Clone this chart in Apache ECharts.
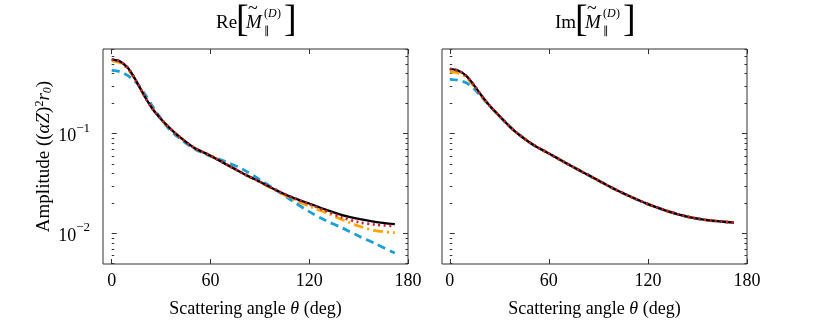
<!DOCTYPE html>
<html>
<head>
<meta charset="utf-8">
<script src="https://cdn.jsdelivr.net/npm/echarts@6/dist/echarts.min.js"></script>
<style>
  html, body { margin: 0; padding: 0; background: #fff; }
  #chart { width: 830px; height: 323px; }
</style>
</head>
<body>
<div id="chart"></div>
<script>
// scattering angle (deg)
const angles = [0, 5, 10, 15, 20, 25, 30, 35, 40, 50, 60, 70, 80, 90, 100, 110, 120, 130, 140, 150, 160, 172];

// Re part
const reBlack  = [0.557, 0.531, 0.452, 0.335, 0.237, 0.176, 0.140, 0.115, 0.0966, 0.0724, 0.0603, 0.0490, 0.0398, 0.0331, 0.0272, 0.0229, 0.0200, 0.0174, 0.0153, 0.0140, 0.0131, 0.0124];
const reBlue   = [0.431, 0.419, 0.380, 0.324, 0.251, 0.186, 0.141, 0.111, 0.0933, 0.0708, 0.0596, 0.0519, 0.0437, 0.0347, 0.0272, 0.0211, 0.0166, 0.0135, 0.0114, 0.00944, 0.00794, 0.00638];
const reOrange = [0.537, 0.513, 0.442, 0.333, 0.237, 0.176, 0.140, 0.115, 0.0966, 0.0724, 0.0603, 0.0490, 0.0398, 0.0327, 0.0268, 0.0221, 0.0188, 0.0162, 0.0138, 0.0119, 0.0107, 0.0102];
const reRed    = [0.557, 0.531, 0.452, 0.335, 0.237, 0.176, 0.140, 0.115, 0.0966, 0.0724, 0.0603, 0.0490, 0.0398, 0.0331, 0.0272, 0.0229, 0.0197, 0.0169, 0.0145, 0.0130, 0.0123, 0.0119];

// Im part
const imBlack  = [0.447, 0.430, 0.380, 0.302, 0.232, 0.184, 0.151, 0.124, 0.104, 0.0785, 0.0634, 0.0513, 0.0417, 0.0340, 0.0278, 0.0232, 0.0197, 0.0172, 0.0153, 0.0141, 0.0134, 0.0129];
const imBlue   = [0.351, 0.344, 0.324, 0.279, 0.226, 0.184, 0.151, 0.124, 0.104, 0.0785, 0.0634, 0.0513, 0.0417, 0.0340, 0.0278, 0.0232, 0.0197, 0.0172, 0.0153, 0.0141, 0.0134, 0.0129];
const imOrange = [0.417, 0.406, 0.367, 0.295, 0.230, 0.184, 0.151, 0.124, 0.104, 0.0785, 0.0634, 0.0513, 0.0417, 0.0340, 0.0278, 0.0232, 0.0197, 0.0172, 0.0153, 0.0141, 0.0134, 0.0129];
const imRed    = [0.445, 0.430, 0.380, 0.302, 0.232, 0.184, 0.151, 0.124, 0.104, 0.0785, 0.0634, 0.0513, 0.0417, 0.0340, 0.0278, 0.0232, 0.0197, 0.0172, 0.0153, 0.0141, 0.0134, 0.0129];

const xTicks = [0, 60, 120, 180];
const yMajor = [0.01, 0.1];
const yMinor = [0.005, 0.006, 0.007, 0.008, 0.009, 0.02, 0.03, 0.04, 0.05, 0.06, 0.07, 0.08, 0.09, 0.2, 0.3, 0.4, 0.5, 0.6, 0.7];

const FONT = 'Liberation Serif';
const LOG_MIN = -2.305, LOG_MAX = -0.151;
const lg = v => Math.log10(v);

const chart = echarts.init(document.getElementById('chart'));

const frame = '#333';
function xAx(grid, min, pos, labels) {
  return {
    type: 'value', gridIndex: grid, position: pos, min: min, max: 180,
    axisLine: { show: false }, splitLine: { show: false },
    axisTick: { show: true, inside: true, length: 5, lineStyle: { color: frame }, customValues: xTicks },
    axisLabel: { show: labels, customValues: xTicks, margin: 8, color: '#000',
      fontFamily: FONT, fontSize: 18 },
    name: labels ? 'Scattering angle {i|θ} (deg)' : '',
    nameLocation: 'middle', nameGap: 36,
    nameTextStyle: { color: '#000', fontFamily: FONT, fontSize: 18,
      rich: { i: { fontFamily: FONT, fontStyle: 'italic', fontSize: 18 } } }
  };
}
function yAx(grid, pos, ticks, len, labels, name) {
  return {
    type: 'value', gridIndex: grid, position: pos, min: LOG_MIN, max: LOG_MAX,
    axisLine: { show: false }, splitLine: { show: false },
    axisTick: { show: true, inside: true, length: len, lineStyle: { color: frame },
      customValues: ticks.map(lg) },
    axisLabel: { show: labels, customValues: ticks.map(lg), margin: 13, color: '#000',
      formatter: v => '{b|10}{s|−' + Math.round(-v) + '}',
      rich: { b: { fontFamily: FONT, fontSize: 18, padding: [6, 0, 0, 0] }, s: { fontFamily: FONT, fontSize: 13, verticalAlign: 'top' } } },
    name: name || '', nameLocation: 'middle', nameGap: 34, nameRotate: 90,
    nameTextStyle: { color: '#000', fontFamily: FONT, fontSize: 19,
      rich: { i: { fontFamily: FONT, fontStyle: 'italic', fontSize: 19 },
              sup: { fontFamily: FONT, fontSize: 12, verticalAlign: 'top', padding: [0, 0, 8, 0] },
              sub: { fontFamily: FONT, fontStyle: 'italic', fontSize: 12, verticalAlign: 'bottom', padding: [6, 0, 0, 0] } } }
  };
}

const styles = [
  { color: '#1a9fdb', width: 2.8, type: [8, 5] },
  { color: '#ffa500', width: 2.8, type: [10, 4, 2, 4] },
  { color: '#000000', width: 2.3, type: 'solid' },
  { color: '#c8213f', width: 2.8, type: [2, 3.5] }
];
function series(xi, yi, arrs) {
  return arrs.map((a, k) => ({
    type: 'line', xAxisIndex: xi, yAxisIndex: yi, smooth: 0.3, symbol: 'none',
    lineStyle: Object.assign({}, styles[k]), z: 2 + k,
    data: angles.map((t, i) => [t, lg(a[i])])
  }));
}

function titleGroup(cx, head) {
  const x0 = cx - 40;
  const f = s => s + 'px ' + FONT;
  const t = (text, x, y, font) => ({ type: 'text',
    style: { text: text, x: x, y: y, font: font, fill: '#000', verticalAlign: 'middle' } });
  return { type: 'group', children: [
    t(head, x0, 23, f(19)),
    t('[', x0 + 20, 21, f(38)),
    t('M', x0 + 30, 23, 'italic ' + f(19)),
    t('~', x0 + 32, 9, f(18)),
    t('(', x0 + 48, 14, f(12)),
    t('D', x0 + 52, 14, 'italic ' + f(12)),
    t(')', x0 + 61, 14, f(12)),
    t('∥', x0 + 48, 31, f(11)),
    t(']', x0 + 68, 21, f(38))
  ] };
}

const option = {
  backgroundColor: '#fff',
  animation: false,
  grid: [
    { left: 103, top: 49, width: 305, height: 225, show: true, borderColor: frame, borderWidth: 1, backgroundColor: 'transparent' },
    { left: 442, top: 49, width: 305, height: 225, show: true, borderColor: frame, borderWidth: 1, backgroundColor: 'transparent' }
  ],
  xAxis: [
    xAx(0, -5.3, 'bottom', true), xAx(0, -5.3, 'top', false),
    xAx(1, -4.7, 'bottom', true), xAx(1, -4.7, 'top', false)
  ],
  yAxis: [
    yAx(0, 'left', yMajor, 5, true, 'Amplitude (({i|αZ}){sup|2}{i|r}{sub|0})'),
    yAx(0, 'left', yMinor, 2.5, false), yAx(0, 'right', yMajor, 5, false), yAx(0, 'right', yMinor, 2.5, false),
    yAx(1, 'left', yMajor, 5, false), yAx(1, 'left', yMinor, 2.5, false),
    yAx(1, 'right', yMajor, 5, false), yAx(1, 'right', yMinor, 2.5, false)
  ],
  graphic: [titleGroup(256, 'Re'), titleGroup(595, 'Im')],
  series: [].concat(
    series(0, 0, [reBlue, reOrange, reBlack, reRed]),
    series(2, 4, [imBlue, imOrange, imBlack, imRed])
  )
};
chart.setOption(option);
</script>
</body>
</html>
